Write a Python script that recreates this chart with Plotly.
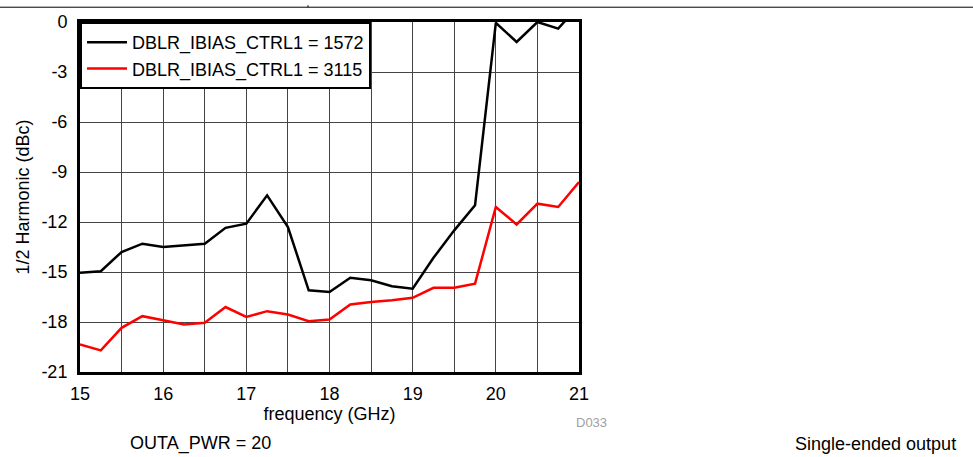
import plotly.graph_objects as go

freq_ghz = [15.0, 15.25, 15.5, 15.75, 16.0, 16.25, 16.5, 16.75, 17.0, 17.25, 17.5, 17.75, 18.0,
            18.25, 18.5, 18.75, 19.0, 19.25, 19.5, 19.75, 20.0, 20.25, 20.5, 20.75, 21.0]
harm_1572 = [-15.05, -14.95, -13.8, -13.3, -13.5, -13.4, -13.3, -12.35, -12.1, -10.4, -12.3, -16.1, -16.2,
             -15.35, -15.5, -15.85, -16.0, -14.15, -12.5, -11.0, -0.05, -1.2, 0.0, -0.4, 1.0]
harm_3115 = [-19.35, -19.7, -18.35, -17.65, -17.9, -18.15, -18.05, -17.1, -17.7, -17.35, -17.55, -17.95, -17.85,
             -16.95, -16.8, -16.7, -16.55, -15.95, -15.95, -15.7, -11.1, -12.15, -10.9, -11.1, -9.6]
series_names = ["DBLR_IBIAS_CTRL1 = 1572", "DBLR_IBIAS_CTRL1 = 3115"]

y_ticks = [0, -3, -6, -9, -12, -15, -18, -21]
y_tick_labels = ["0", "-3", "-6", "-9", "-12", "-15", "-18", "-21"]

font = "Liberation Sans, Arial, sans-serif"
W, H = 973, 457
L, R, T, B = 80, 394, 17, 85
pw, ph = W - L - R, H - T - B


def px(x):
    """Page pixel x -> paper coordinate."""
    return (x - L) / pw


def py(y):
    """Page pixel y -> paper coordinate."""
    return (H - B - y) / ph


fig = go.Figure()
fig.add_trace(go.Scatter(x=freq_ghz, y=harm_1572, mode="lines", name=series_names[0],
                         line={"color": "black", "width": 2.5}))
fig.add_trace(go.Scatter(x=freq_ghz, y=harm_3115, mode="lines", name=series_names[1],
                         line={"color": "#ff0000", "width": 2.5}))

fig.update_layout(
    width=W,
    height=H,
    margin={"l": L, "r": R, "t": T, "b": B},
    paper_bgcolor="white",
    plot_bgcolor="white",
    font={"family": font, "size": 18, "color": "black"},
    showlegend=True,
    legend={
        "x": 0, "y": 1, "xanchor": "left", "yanchor": "top",
        "bgcolor": "white", "bordercolor": "black", "borderwidth": 2,
        "font": {"size": 18}, "tracegroupgap": 0, "itemwidth": 40,
    },
    xaxis={
        "range": [15, 21], "dtick": 1, "tick0": 15,
        "showgrid": True, "gridcolor": "#444", "gridwidth": 1,
        "minor": {"dtick": 0.5, "showgrid": True, "gridcolor": "#444", "gridwidth": 1},
        "showline": True, "linecolor": "black", "linewidth": 3, "mirror": True,
        "ticks": "", "ticklabelstandoff": 3, "zeroline": False,
        "title": {"text": "frequency (GHz)", "font": {"size": 18}, "standoff": 0},
    },
    yaxis={
        "range": [-21, 0], "tickvals": y_ticks, "ticktext": y_tick_labels,
        "showgrid": True, "gridcolor": "#444", "gridwidth": 1,
        "showline": True, "linecolor": "black", "linewidth": 3, "mirror": True,
        "ticks": "", "ticklabelstandoff": 6, "zeroline": False,
        "title": {"text": "1/2 Harmonic (dBc)", "font": {"size": 18}, "standoff": 8},
    },
)

# page decoration: rule at the top of the page
fig.add_shape(type="line", xref="paper", yref="paper", x0=px(0), x1=px(W),
              y0=py(2), y1=py(2), line={"color": "black", "width": 1})
fig.add_shape(type="line", xref="paper", yref="paper", x0=px(308), x1=px(308),
              y0=py(2), y1=py(0), line={"color": "black", "width": 1})

fig.add_annotation(text="D033", xref="paper", yref="paper", x=px(591), y=py(423),
                   xanchor="center", yanchor="middle", showarrow=False,
                   font={"size": 13, "color": "#a0a0a0"})
fig.add_annotation(text="OUTA_PWR = 20", xref="paper", yref="paper", x=px(128), y=py(445),
                   xanchor="left", yanchor="middle", showarrow=False, font={"size": 18})
fig.add_annotation(text="Single-ended output", xref="paper", yref="paper", x=px(958), y=py(445),
                   xanchor="right", yanchor="middle", showarrow=False, font={"size": 18})

fig.write_html("out.html", config={"displayModeBar": False},
               post_script="document.body.style.margin='0';")
